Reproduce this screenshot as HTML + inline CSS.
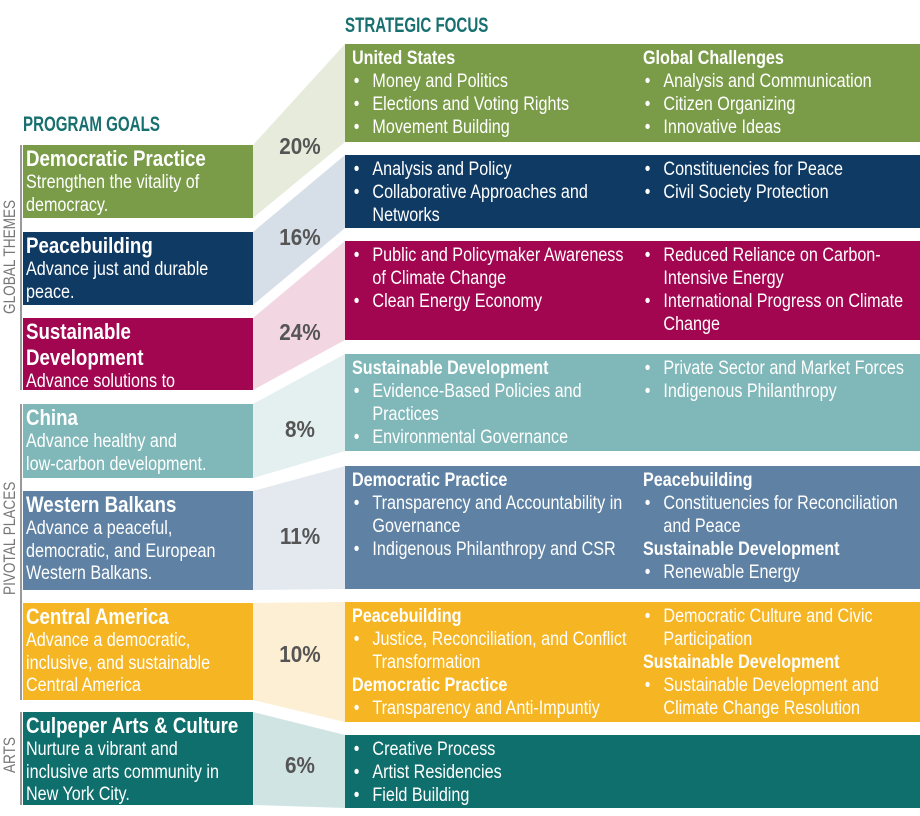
<!DOCTYPE html>
<html><head><meta charset="utf-8">
<style>
*{margin:0;padding:0;box-sizing:border-box}
body{width:920px;height:816px;background:#fff;position:relative;overflow:hidden;font-family:"Liberation Sans Narrow","Liberation Sans",sans-serif;color:#fff}
.abs{position:absolute}
.hd{position:absolute;font-weight:bold;font-size:21px;color:#17706f;transform:scaleX(.72);transform-origin:0 0;white-space:nowrap}
.lb{position:absolute;left:23px;width:230px;padding:1px 0 0 3px;overflow:hidden}
.lb .in{width:264px;transform:scaleX(.85);transform-origin:0 0}
.lb .t{font-weight:bold;font-size:22px;line-height:26px}
.lb .d{font-size:19px;line-height:22.5px}
.rb{position:absolute;left:345px;width:575px}
.col{position:absolute;top:3px;font-size:19px;line-height:23px;transform:scaleX(.85);transform-origin:0 0}
.c1{left:7px;width:335px}.c2{left:298px;width:323px}
.h{font-weight:bold}
.b{position:relative;padding-left:24px}
.b::before{content:"•";position:absolute;left:2px}
.pct{position:absolute;left:262px;width:76px;text-align:center;font-weight:bold;font-size:23px;color:#555;transform:scaleX(.9)}
.side{position:absolute;left:20px;border-left:2px solid #999}
.sl{position:absolute;font-size:17px;color:#777;transform:rotate(-90deg) scaleX(.8);transform-origin:center;white-space:nowrap;text-align:center}
</style></head><body>
<svg class="abs" style="left:0;top:0" width="920" height="816">
<polygon points="253,145 345,44 345,142 253,218" fill="#e6ebdc"/>
<polygon points="253,232 345,155 345,228 253,305" fill="#d6dee7"/>
<polygon points="253,318 345,241 345,340 253,390" fill="#f2d7e3"/>
<polygon points="253,404 345,354 345,451 253,478" fill="#e4eff0"/>
<polygon points="253,491 345,466 345,589 253,590" fill="#e3e9ef"/>
<polygon points="253,603 345,602 345,722 253,700" fill="#fdefd3"/>
<polygon points="253,712 345,735 345,808 253,805" fill="#d0e4e4"/>
</svg>

<div class="hd" style="left:345px;top:14px">STRATEGIC FOCUS</div>
<div class="hd" style="left:23px;top:113px">PROGRAM GOALS</div>

<div class="side" style="top:145px;height:245px"></div>
<div class="sl" style="left:-50px;top:256px;width:120px">GLOBAL THEMES</div>
<div class="side" style="top:404px;height:296px"></div>
<div class="sl" style="left:-50px;top:537px;width:120px">PIVOTAL PLACES</div>
<div class="side" style="top:712px;height:93px"></div>
<div class="sl" style="left:-50px;top:745px;width:120px">ARTS</div>

<div class="lb" style="top:145px;height:73px;background:#7a9c48"><div class="in"><div class="t">Democratic Practice</div><div class="d">Strengthen the vitality of<br>democracy.</div></div></div>
<div class="lb" style="top:232px;height:73px;background:#0f3a64"><div class="in"><div class="t">Peacebuilding</div><div class="d">Advance just and durable<br>peace.</div></div></div>
<div class="lb" style="top:318px;height:72px;background:#a20650"><div class="in"><div class="t">Sustainable Development</div><div class="d">Advance solutions to<br>climate change.</div></div></div>
<div class="lb" style="top:404px;height:74px;background:#80b7b9"><div class="in"><div class="t">China</div><div class="d">Advance healthy and<br>low-carbon development.</div></div></div>
<div class="lb" style="top:491px;height:99px;background:#5f82a4"><div class="in"><div class="t">Western Balkans</div><div class="d">Advance a peaceful,<br>democratic, and European<br>Western Balkans.</div></div></div>
<div class="lb" style="top:603px;height:97px;background:#f6b522"><div class="in"><div class="t">Central America</div><div class="d">Advance a democratic,<br>inclusive, and sustainable<br>Central America</div></div></div>
<div class="lb" style="top:712px;height:93px;background:#0e6f6d"><div class="in"><div class="t">Culpeper Arts &amp; Culture</div><div class="d">Nurture a vibrant and<br>inclusive arts community in<br>New York City.</div></div></div>

<div class="pct" style="top:133px">20%</div>
<div class="pct" style="top:224px">16%</div>
<div class="pct" style="top:319px">24%</div>
<div class="pct" style="top:416px">8%</div>
<div class="pct" style="top:523px">11%</div>
<div class="pct" style="top:641px">10%</div>
<div class="pct" style="top:752px">6%</div>

<div class="rb" style="top:44px;height:98px;background:#7a9c48">
<div class="col c1"><div class="h">United States</div><div class="b">Money and Politics</div><div class="b">Elections and Voting Rights</div><div class="b">Movement Building</div></div>
<div class="col c2"><div class="h">Global Challenges</div><div class="b">Analysis and Communication</div><div class="b">Citizen Organizing</div><div class="b">Innovative Ideas</div></div>
</div>
<div class="rb" style="top:155px;height:73px;background:#0f3a64">
<div class="col c1"><div class="b">Analysis and Policy</div><div class="b">Collaborative Approaches and Networks</div></div>
<div class="col c2"><div class="b">Constituencies for Peace</div><div class="b">Civil Society Protection</div></div>
</div>
<div class="rb" style="top:241px;height:99px;background:#a20650">
<div class="col c1"><div class="b">Public and Policymaker Awareness of Climate Change</div><div class="b">Clean Energy Economy</div></div>
<div class="col c2"><div class="b">Reduced Reliance on Carbon-Intensive Energy</div><div class="b">International Progress on Climate Change</div></div>
</div>
<div class="rb" style="top:354px;height:97px;background:#80b7b9">
<div class="col c1"><div class="h">Sustainable Development</div><div class="b">Evidence-Based Policies and Practices</div><div class="b">Environmental Governance</div></div>
<div class="col c2"><div class="b">Private Sector and Market Forces</div><div class="b">Indigenous Philanthropy</div></div>
</div>
<div class="rb" style="top:466px;height:123px;background:#5f82a4">
<div class="col c1"><div class="h">Democratic Practice</div><div class="b">Transparency and Accountability in Governance</div><div class="b">Indigenous Philanthropy and CSR</div></div>
<div class="col c2"><div class="h">Peacebuilding</div><div class="b">Constituencies for Reconciliation and Peace</div><div class="h">Sustainable Development</div><div class="b">Renewable Energy</div></div>
</div>
<div class="rb" style="top:602px;height:120px;background:#f6b522">
<div class="col c1"><div class="h">Peacebuilding</div><div class="b">Justice, Reconciliation, and Conflict Transformation</div><div class="h">Democratic Practice</div><div class="b">Transparency and Anti-Impuntiy</div></div>
<div class="col c2"><div class="b">Democratic Culture and Civic Participation</div><div class="h">Sustainable Development</div><div class="b">Sustainable Development and Climate Change Resolution</div></div>
</div>
<div class="rb" style="top:735px;height:73px;background:#0e6f6d">
<div class="col c1"><div class="b">Creative Process</div><div class="b">Artist Residencies</div><div class="b">Field Building</div></div>
</div>
</body></html>
